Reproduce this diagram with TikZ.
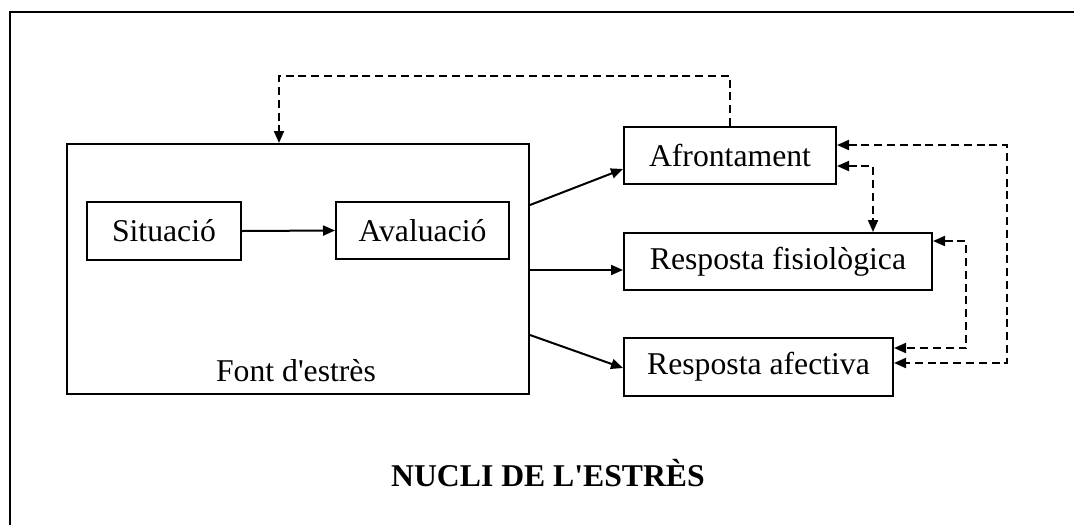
\documentclass[tikz,border=0pt]{standalone}
\usepackage{fontspec}
\setmainfont{Liberation Serif}[Ligatures=TeXOff]
\usetikzlibrary{arrows.meta,calc}
\begin{document}
\begin{tikzpicture}[x=0.5pt,y=-0.5pt,
  every node/.style={font=\fontsize{15.85}{19}\selectfont},
  box/.style={draw,line width=1pt,inner sep=0pt,anchor=center},
  conn/.style={line width=1pt,-{Triangle[length=6pt,width=5pt]}},
  dconn/.style={line width=1pt,dash pattern=on 4pt off 2.4pt,{Triangle[length=6pt,width=5pt]}-{Triangle[length=6pt,width=5pt]}},
  dconnone/.style={line width=1pt,dash pattern=on 4pt off 2.4pt,-{Triangle[length=6pt,width=5pt]}}]
\useasboundingbox (0,0) rectangle (1074,525);
% outer frame (only top and left edges visible)
\draw[line width=1pt] (9.5,525) |- (1074,12);
% boxes
\node[box,minimum width=231pt,minimum height=125pt] (font) at (298,269) {};
\node[anchor=base] (fonttxt) at (296,381) {Font d'estrès};
\node[box,minimum width=77pt,minimum height=29pt] (sit) at (164,231) {Situació};
\node[box,minimum width=86.5pt,minimum height=28.5pt] (aval) at (422.5,230.5) {Avaluació};
\node[box,minimum width=106pt,minimum height=28.5pt] (afr) at (730,155.5) {Afrontament};
\node[box,minimum width=154pt,minimum height=28.5pt] (fis) at (778,261.5) {Resposta fisiològica};
\node[box,minimum width=134.5pt,minimum height=29pt] (afe) at (758.5,367) {Resposta afectiva};
\node[anchor=base,font=\fontsize{15.85}{19}\selectfont\bfseries] (title) at (548,486) {NUCLI DE L'ESTRÈS};
% solid connectors
\draw[conn] (sit.east) -- (aval.west);
\draw[conn] (font.east |- 0,205) -- (afr.west |- 0,169);
\draw[conn] (font.east |- 0,270) -- (fis.west |- 0,270);
\draw[conn] (font.east |- 0,335) -- (afe.west |- 0,368);
% dashed feedback
\coordinate (ctop) at (279,76);
\draw[dconnone] (afr.north) |- (ctop) -- (font.north -| ctop);
\coordinate (cin) at (873,166);
\draw[dconn] (afr.east |- cin) -| (fis.north -| cin);
\coordinate (cout) at (1007,145);
\coordinate (cout2) at (1007,363);
\draw[dconn] (afr.east |- cout) -- (cout) -- (cout2) -- (afe.east |- cout2);
\coordinate (cmid) at (966,241);
\coordinate (cmid2) at (966,348);
\draw[dconn] (fis.east |- cmid) -- (cmid) -- (cmid2) -- (afe.east |- cmid2);
\end{tikzpicture}
\end{document}
